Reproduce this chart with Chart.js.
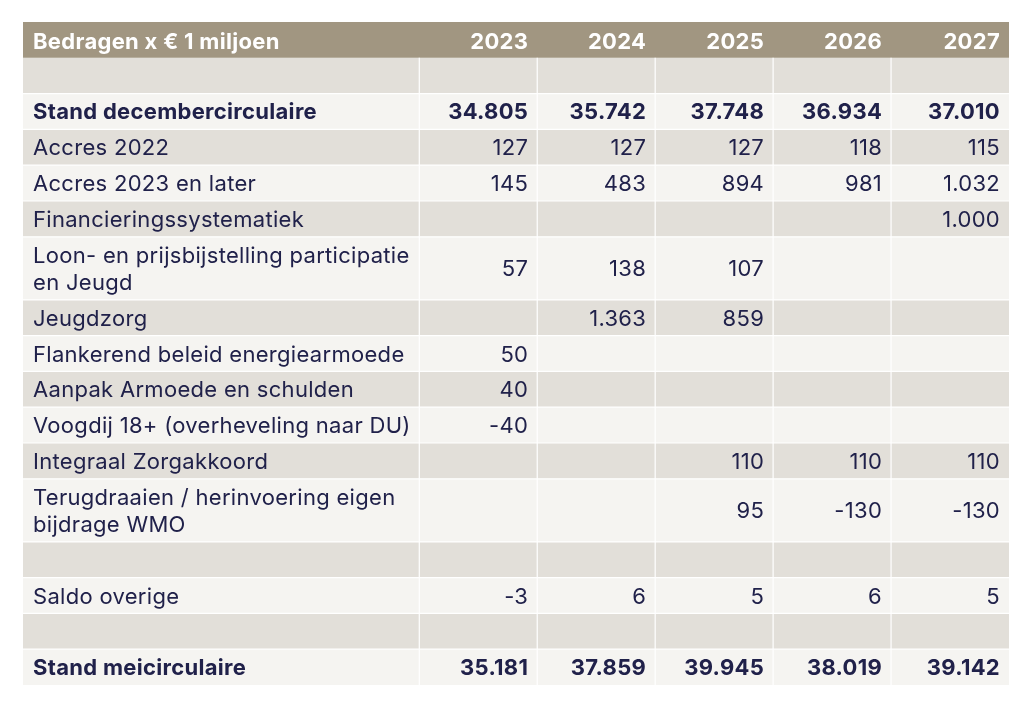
<!DOCTYPE html>
<html>
<head>
<meta charset="utf-8">
<script src="https://cdn.jsdelivr.net/npm/chart.js@4/dist/chart.umd.min.js"></script>
<style>
  html, body { margin: 0; padding: 0; background: #ffffff; }
  #wrap { width: 1033px; height: 709px; position: relative; }
</style>
</head>
<body>
<div id="wrap"><canvas id="myChart"></canvas></div>
<script>
// table content
const headerLabel = 'Bedragen x € 1 miljoen'
const years = ['2023', '2024', '2025', '2026', '2027']
const rowLabels = [
    '',
    'Stand decembercirculaire',
    'Accres 2022',
    'Accres 2023 en later',
    'Financieringssystematiek',
    ['Loon- en prijsbijstelling participatie', 'en Jeugd'],
    'Jeugdzorg',
    'Flankerend beleid energiearmoede',
    'Aanpak Armoede en schulden',
    'Voogdij 18+ (overheveling naar DU)',
    'Integraal Zorgakkoord',
    ['Terugdraaien / herinvoering eigen', 'bijdrage WMO'],
    '',
    'Saldo overige',
    '',
    'Stand meicirculaire'
]
const values2023 = [null, 34805, 127, 145, null, 57, null, 50, 40, -40, null, null, null, -3, null, 35181]
const values2024 = [null, 35742, 127, 483, null, 138, 1363, null, null, null, null, null, null, 6, null, 37859]
const values2025 = [null, 37748, 127, 894, null, 107, 859, null, null, null, 110, 95, null, 5, null, 39945]
const values2026 = [null, 36934, 118, 981, null, null, null, null, null, null, 110, -130, null, 6, null, 38019]
const values2027 = [null, 37010, 115, 1032, 1000, null, null, null, null, null, 110, -130, null, 5, null, 39142]
const boldRows = ['Stand decembercirculaire', 'Stand meicirculaire']

const columnValues = [values2023, values2024, values2025, values2026, values2027]

// layout (in scale units: one year column wide, one line high)
const LABEL_COL = 3.36
const DOUBLE_ROW = 1.76
const TABLE_WIDTH = LABEL_COL + years.length

const HEADER_BG = '#a19681'
const GRAY_BG = '#e2dfd9'
const LIGHT_BG = '#f5f4f1'
const TEXT_COLOR = '#20214a'
const FONT = 'Inter, "DejaVu Sans", sans-serif'

// row boundaries: header goes from 0 to 1, body rows follow
let rowTops = []
let rowBottoms = []
let pos = 1
rowLabels.forEach(function (label) {
    rowTops.push(pos)
    pos += Array.isArray(label) ? DOUBLE_ROW : 1
    rowBottoms.push(pos)
})
const TABLE_HEIGHT = pos

function formatNumber(v) {
    let s = Math.abs(v).toString().replace(/\B(?=(\d{3})+(?!\d))/g, '.')
    return (v < 0 ? '-' : '') + s
}

function band(top, bottom, color) {
    return {
        data: [{ x: 0, y: bottom }, { x: TABLE_WIDTH, y: bottom }],
        fill: { value: top },
        backgroundColor: color,
        borderColor: 'transparent',
        borderWidth: 0,
        pointRadius: 0,
        order: 2
    }
}

function whiteLine(points) {
    return {
        data: points,
        fill: false,
        borderColor: '#ffffff',
        borderWidth: 1.2,
        pointRadius: 0,
        order: 1
    }
}

let datasets = []
datasets.push(band(0, 1, HEADER_BG))
rowLabels.forEach(function (label, i) {
    datasets.push(band(rowTops[i], rowBottoms[i], i % 2 === 0 ? GRAY_BG : LIGHT_BG))
})
// horizontal separators between body rows
for (let i = 1; i < rowLabels.length; i++) {
    datasets.push(whiteLine([{ x: 0, y: rowTops[i] }, { x: TABLE_WIDTH, y: rowTops[i] }]))
}
// vertical separators between columns (body only)
for (let c = 0; c < years.length; c++) {
    let xb = LABEL_COL + c
    datasets.push(whiteLine([{ x: xb, y: 1 }, { x: xb, y: TABLE_HEIGHT }]))
}

// draws the cell texts at positions taken from the scales
const tableText = {
    id: 'tableText',
    afterDatasetsDraw(chart) {
        const { ctx, scales: { x, y } } = chart
        const left = x.getPixelForValue(0) + 10
        ctx.save()
        ctx.textBaseline = 'alphabetic'
        ctx.letterSpacing = '0.3px'

        // header row
        let hy = y.getPixelForValue(0.5) + 9
        ctx.fillStyle = '#ffffff'
        ctx.font = 'bold 22px ' + FONT
        ctx.textAlign = 'left'
        ctx.fillText(headerLabel, left, hy)
        ctx.textAlign = 'right'
        years.forEach(function (yr, c) {
            ctx.fillText(yr, x.getPixelForValue(LABEL_COL + c + 1) - 9, hy)
        })

        // body rows
        ctx.fillStyle = TEXT_COLOR
        rowLabels.forEach(function (label, i) {
            let isBold = boldRows.includes(label)
            ctx.font = (isBold ? 'bold ' : '') + '22px ' + FONT
            let cy = y.getPixelForValue((rowTops[i] + rowBottoms[i]) / 2) + 8
            ctx.textAlign = 'left'
            if (Array.isArray(label)) {
                ctx.fillText(label[0], left, cy - 13.3)
                ctx.fillText(label[1], left, cy + 13.3)
            } else if (label) {
                ctx.fillText(label, left, cy)
            }
            ctx.textAlign = 'right'
            columnValues.forEach(function (vals, c) {
                if (vals[i] !== null) {
                    ctx.fillText(formatNumber(vals[i]), x.getPixelForValue(LABEL_COL + c + 1) - 9, cy)
                }
            })
        })
        ctx.restore()
    }
}

let ctx = document.getElementById('myChart')
let myChart = new Chart(ctx, {
    type: 'line',
    data: { datasets: datasets },
    options: {
        responsive: true,
        maintainAspectRatio: false,
        animation: false,
        layout: { padding: { left: 23, right: 24, top: 22, bottom: 24 } },
        plugins: {
            legend: { display: false },
            tooltip: { enabled: false }
        },
        scales: {
            x: { type: 'linear', min: 0, max: TABLE_WIDTH, display: false },
            y: { type: 'linear', min: 0, max: TABLE_HEIGHT, reverse: true, display: false }
        }
    },
    plugins: [tableText]
})
</script>
</body>
</html>
